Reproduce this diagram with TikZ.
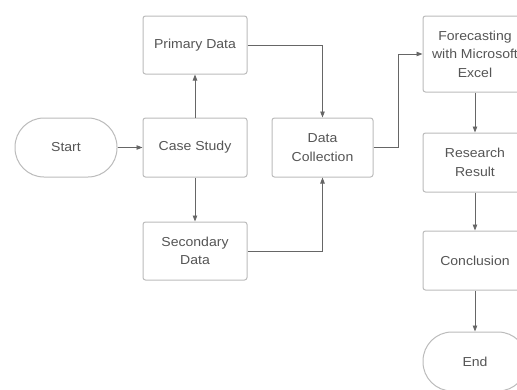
\documentclass[tikz,border=0pt]{standalone}
\usepackage{fontspec}
\setmainfont{Liberation Sans}[FakeStretch=1.08]
\usetikzlibrary{arrows.meta}
\definecolor{boxline}{HTML}{BBBBBB}
\definecolor{txt}{HTML}{555555}
\definecolor{conn}{HTML}{666666}
\tikzset{
  box/.style={draw=boxline, line width=1pt, rounded corners=2.5pt, fill=white,
    minimum width=104pt, minimum height=59pt, inner sep=0pt, align=center,
    text=txt, font=\fontsize{13}{18.5}\selectfont},
  term/.style={box, rounded corners=29pt},
  conn/.style={draw=conn, line width=0.9pt, -{Triangle[length=6pt,width=4.5pt]}}
}
\begin{document}
\begin{tikzpicture}[x=1pt,y=-1pt]
\useasboundingbox (0,0) rectangle (517,389);
\node[term] (start) at (66,147.5) [minimum width=102pt] {Start};
\node[box] (case) at (195,147.5) {Case Study};
\node[box] (primary) at (195,45) [minimum height=58pt] {Primary Data};
\node[box] (secondary) at (195,251) [minimum height=58pt] {Secondary\\Data};
\node[box] (dc) at (322.5,147.5) [minimum width=101pt] {Data\\Collection};
\node[box] (fc) at (475,54) [minimum height=76pt] {Forecasting\\with Microsoft\\Excel};
\node[box] (rr) at (475,162.5) {Research\\Result};
\node[box] (cc) at (475,260.5) {Conclusion};
\node[term] (end) at (475,361.5) {End};
\coordinate (k1) at (398,147.5);
\coordinate (k2) at (398,54);
\draw[conn] (start) -- (case);
\draw[conn] (case) -- (primary);
\draw[conn] (case) -- (secondary);
\draw[conn] (primary.east) -| (dc.north);
\draw[conn] (secondary.east) -| (dc.south);
\draw[conn] (dc.east) -- (k1) -- (k2) -- (fc.west);
\draw[conn] (fc) -- (rr);
\draw[conn] (rr) -- (cc);
\draw[conn] (cc) -- (end);
\end{tikzpicture}
\end{document}
